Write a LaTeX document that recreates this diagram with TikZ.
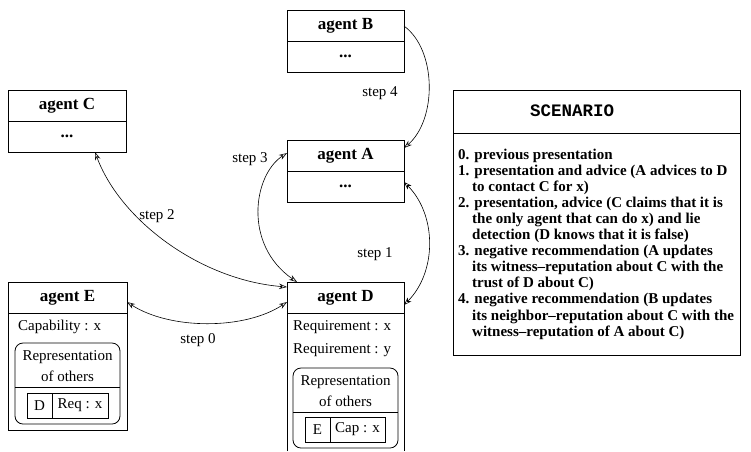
\documentclass[tikz,border=0pt]{standalone}
\usepackage{fontspec}
\setmainfont{Liberation Serif}
\newfontfamily\scmono{Liberation Mono}
\usetikzlibrary{arrows.meta}
\begin{document}
\begin{tikzpicture}[x=1pt,y=-1pt,
  box/.style={draw, line width=0.8pt, inner sep=0pt, outer sep=0pt},
  rbox/.style={box, rounded corners=8pt},
  sep/.style={line width=0.8pt},
  ttl/.style={font=\bfseries\fontsize{17}{20}\selectfont, inner sep=0pt},
  txt/.style={font=\fontsize{15}{18}\selectfont, inner sep=0pt},
  lbl/.style={font=\fontsize{15}{18}\selectfont, inner sep=0pt},
  both/.style={line width=0.6pt, {Stealth[open,length=8pt,width=5.5pt]}-{Stealth[open,length=8pt,width=5.5pt]}},
  one/.style={line width=0.6pt, -{Stealth[open,length=8pt,width=5.5pt]}},
  sc/.style={font=\bfseries\fontsize{15}{18}\selectfont, anchor=base west, inner sep=0pt}
]
\useasboundingbox (0,0) rectangle (751,451);

% agent B
\node[box, minimum width=117pt, minimum height=62pt] (B) at (345.5,41) {};
\draw[sep] (B.west) -- (B.east);
\node[ttl] (Bt) at (345.5,25.5) {agent B};
\node[ttl] (Bd) at (345.5,56) {...};

% agent A
\node[box, minimum width=117pt, minimum height=62pt] (A) at (345.5,171) {};
\draw[sep] (A.west) -- (A.east);
\node[ttl] (At) at (345.5,155.5) {agent A};
\node[ttl] (Ad) at (345.5,186) {...};

% agent C
\node[box, minimum width=118pt, minimum height=62pt] (C) at (67,121) {};
\draw[sep] (C.west) -- (C.east);
\node[ttl] (Ct) at (67,105.5) {agent C};
\node[ttl] (Cd) at (67,136) {...};

% agent E
\node[box, minimum width=119pt, minimum height=148pt] (E) at (67.5,356) {};
\draw[sep] ([yshift=-31pt]E.north west) -- ([yshift=-31pt]E.north east);
\node[ttl] (Et) at (67.5,297.5) {agent E};
\node[txt, anchor=west] (Ecap) at (18,327) {Capability : x};
\node[rbox, minimum width=105pt, minimum height=81pt] (Er) at (67.5,383.5) {};
\draw[sep] ([yshift=-44pt]Er.north west) -- ([yshift=-44pt]Er.north east);
\node[txt] (Er1) at (67.5,357) {Representation};
\node[txt] (Er2) at (67.5,376) {of others};
\node[box, minimum width=81pt, minimum height=25pt] (Etab) at (67.5,405.5) {};
\draw[sep] ([xshift=25pt]Etab.north west) -- ([xshift=25pt]Etab.south west);
\node[txt] (Etab1) at (39.5,405.5) {D};
\node[txt] (Etab2) at (80,405.5) {Req : x};

% agent D (open at the bottom)
\node[inner sep=0pt, outer sep=0pt, minimum width=117pt, minimum height=169pt] (D) at (345.5,366.5) {};
\draw[sep] (D.south west) -- (D.north west) -- (D.north east) -- (D.south east);
\draw[sep] ([yshift=-31pt]D.north west) -- ([yshift=-31pt]D.north east);
\node[ttl] (Dt) at (345.5,297.5) {agent D};
\node[txt, anchor=west] (Dr1) at (293,327) {Requirement : x};
\node[txt, anchor=west] (Dr2) at (293,350) {Requirement : y};
\node[rbox, minimum width=105pt, minimum height=80pt] (Dr) at (345.5,408) {};
\draw[sep] ([yshift=-44pt]Dr.north west) -- ([yshift=-44pt]Dr.north east);
\node[txt] (Dre1) at (345.5,382) {Representation};
\node[txt] (Dre2) at (345.5,401) {of others};
\node[box, minimum width=80pt, minimum height=25pt] (Dtab) at (345,429.5) {};
\draw[sep] ([xshift=25pt]Dtab.north west) -- ([xshift=25pt]Dtab.south west);
\node[txt] (Dtab1) at (317.5,429.5) {E};
\node[txt] (Dtab2) at (357.5,429.5) {Cap : x};

% connectors
\draw[one] ([yshift=-16pt]B.north east) .. controls (437,50) and (437,120) .. ([yshift=-8pt]A.north east);
\draw[both] ([yshift=-42pt]A.north east) .. controls (437,215) and (437,272) .. ([yshift=-23pt]D.north east);
\draw[both] ([yshift=-13pt]A.north west) .. controls (253,175) and (243,245) .. ([xshift=10pt]D.north west);
\draw[both] ([xshift=87pt]C.south west) .. controls (120,220) and (200,280) .. ([yshift=-5pt]D.north west);
\draw[both] ([yshift=-20pt]E.north east) .. controls (170,330) and (245,330) .. ([yshift=-20pt]D.north west);

\node[lbl] (l4) at (380,93) {step 4};
\node[lbl] (l3) at (250,159) {step 3};
\node[lbl] (l2) at (157,216) {step 2};
\node[lbl] (l1) at (375,254) {step 1};
\node[lbl] (l0) at (198,340) {step 0};

% scenario
\node[box, minimum width=287pt, minimum height=265pt, anchor=north west] (S) at (453,90) {};
\draw[sep] ([yshift=-43pt]S.north west) -- ([yshift=-43pt]S.north east);
\node[font=\scmono\bfseries\fontsize{17.5}{20}\selectfont, inner sep=0pt] (St) at (572,111) {SCENARIO};
\foreach \t [count=\i from 0] in {
  {0. previous presentation},
  {1. presentation and advice (A advices to D},
  {\hspace*{14pt}to contact C for x)},
  {2. presentation, advice (C claims that it is},
  {\hspace*{14pt}the only agent that can do x) and lie},
  {\hspace*{14pt}detection (D knows that it is false)},
  {3. negative recommendation (A updates},
  {\hspace*{14pt}its witness--reputation about C with the},
  {\hspace*{14pt}trust of D about C)},
  {4. negative recommendation (B updates},
  {\hspace*{14pt}its neighbor--reputation about C with the},
  {\hspace*{14pt}witness--reputation of A about C)}}
  \node[sc] (s\i) at (458,159+16.1*\i) {\t};
\end{tikzpicture}
\end{document}
